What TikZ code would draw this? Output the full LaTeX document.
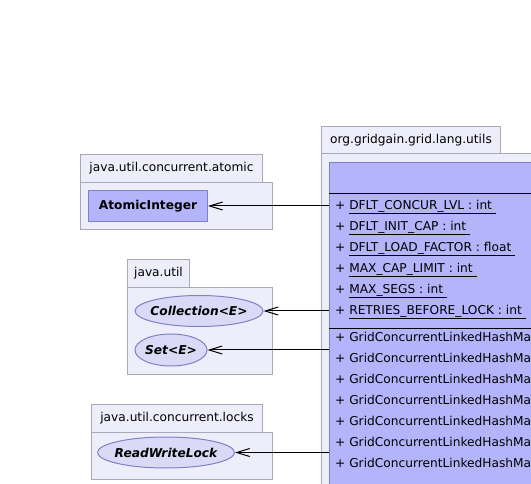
\documentclass[tikz,border=0pt]{standalone}
\usepackage{fontspec}
\setmainfont{DejaVu Sans}
\usepackage{xcolor}
\usetikzlibrary{arrows.meta,shapes.geometric}

\definecolor{pkgfill}{HTML}{EEEEFA}
\definecolor{pkgline}{HTML}{A8A8B8}
\definecolor{clsfill}{HTML}{B4B4FA}
\definecolor{clsline}{HTML}{8080C8}
\definecolor{ifcfill}{HTML}{DADAF6}

\begin{document}
\begin{tikzpicture}[
      x=1pt, y=-1pt,
      every node/.style={font=\fontsize{12.2}{14}\selectfont},
      pkgtab/.style={rectangle, draw=pkgline, fill=pkgfill, line width=1pt,
                     anchor=north west, inner sep=0pt, minimum height=28pt},
      pkgbody/.style={rectangle, draw=pkgline, fill=pkgfill, line width=1pt,
                      anchor=north west, inner sep=0pt},
      cls/.style={rectangle, draw=clsline, fill=clsfill, line width=1pt,
                  anchor=north west, inner sep=0pt},
      ifc/.style={ellipse, draw=clsline, fill=ifcfill, line width=1pt,
                  inner sep=0pt, minimum height=31pt,
                  font=\fontsize{12.2}{14}\selectfont\bfseries\itshape},
      member/.style={anchor=west, inner sep=0pt},
      dep/.style={-{Straight Barb[length=13pt,width=8pt]}, line width=1pt}
    ]
    \useasboundingbox (0,0) rectangle (531,484);
    \clip (0,0) rectangle (531,484);
    % packages
    \node[pkgtab, minimum width=182pt] (atomtab) at (80,154) {java.util.concurrent.atomic};
    \node[pkgbody, minimum width=192pt, minimum height=47pt] (atombody) at (80,182) {};
    \node[pkgtab, minimum width=62pt] (utiltab) at (127,259) {java.util};
    \node[pkgbody, minimum width=145pt, minimum height=87pt] (utilbody) at (127,287) {};
    \node[pkgtab, minimum width=171pt] (lockstab) at (91,404) {java.util.concurrent.locks};
    \node[pkgbody, minimum width=181pt, minimum height=47pt] (locksbody) at (91,432) {};
    \node[pkgtab, minimum width=179pt] (langtab) at (321,126) {org.gridgain.grid.lang.utils};
    \node[pkgbody, minimum width=240pt, minimum height=380pt] (langbody) at (321,153) {};
    % classes
    \node[cls, minimum width=119pt, minimum height=31pt, font=\fontsize{12.2}{14}\selectfont\bfseries]
      (atomint) at (88,190) {AtomicInteger};
    \node[ifc, minimum width=128pt] (coll) at (199,311) {\makebox[0pt]{Collection<E>}};
    \node[ifc, minimum width=72pt, minimum height=32pt] (set) at (171,350) {\makebox[0pt]{Set<E>}};
    \node[ifc, minimum width=137pt] (rwlock) at (166,452.5) {\makebox[0pt]{ReadWriteLock}};
    \node[cls, minimum width=240pt, minimum height=360pt] (map) at (329,162) {};
    \draw[line width=1pt] ([yshift=-32pt]map.north west) -- ++(230,0);
    \draw[line width=1pt] ([yshift=-167pt]map.north west) -- ++(230,0);
    % attributes
    \node[member] (a1) at (335,207) {+ \underline{DFLT\_CONCUR\_LVL : int\ }};
    \node[member] (a2) at (335,228) {+ \underline{DFLT\_INIT\_CAP : int\ }};
    \node[member] (a3) at (335,249) {+ \underline{DFLT\_LOAD\_FACTOR : float\ }};
    \node[member] (a4) at (335,270) {+ \underline{MAX\_CAP\_LIMIT : int\ }};
    \node[member] (a5) at (335,291) {+ \underline{MAX\_SEGS : int\ }};
    \node[member] (a6) at (335,312) {+ \underline{RETRIES\_BEFORE\_LOCK : int\ }};
    % operations
    \node[member] (o1) at (335,338) {+ GridConcurrentLinkedHashMap};
    \node[member] (o2) at (335,359) {+ GridConcurrentLinkedHashMap};
    \node[member] (o3) at (335,380) {+ GridConcurrentLinkedHashMap};
    \node[member] (o4) at (335,401) {+ GridConcurrentLinkedHashMap};
    \node[member] (o5) at (335,422) {+ GridConcurrentLinkedHashMap};
    \node[member] (o6) at (335,443) {+ GridConcurrentLinkedHashMap};
    \node[member] (o7) at (335,464) {+ GridConcurrentLinkedHashMap};
    % dependencies
    \draw[dep] (map.west |- atomint.east) -- (atomint);
    \draw[dep] (map.west |- coll.east) -- (coll);
    \draw[dep] (map.west |- set.east) -- (set);
    \draw[dep] (map.west |- rwlock.east) -- (rwlock);
  \end{tikzpicture}
\end{document}
